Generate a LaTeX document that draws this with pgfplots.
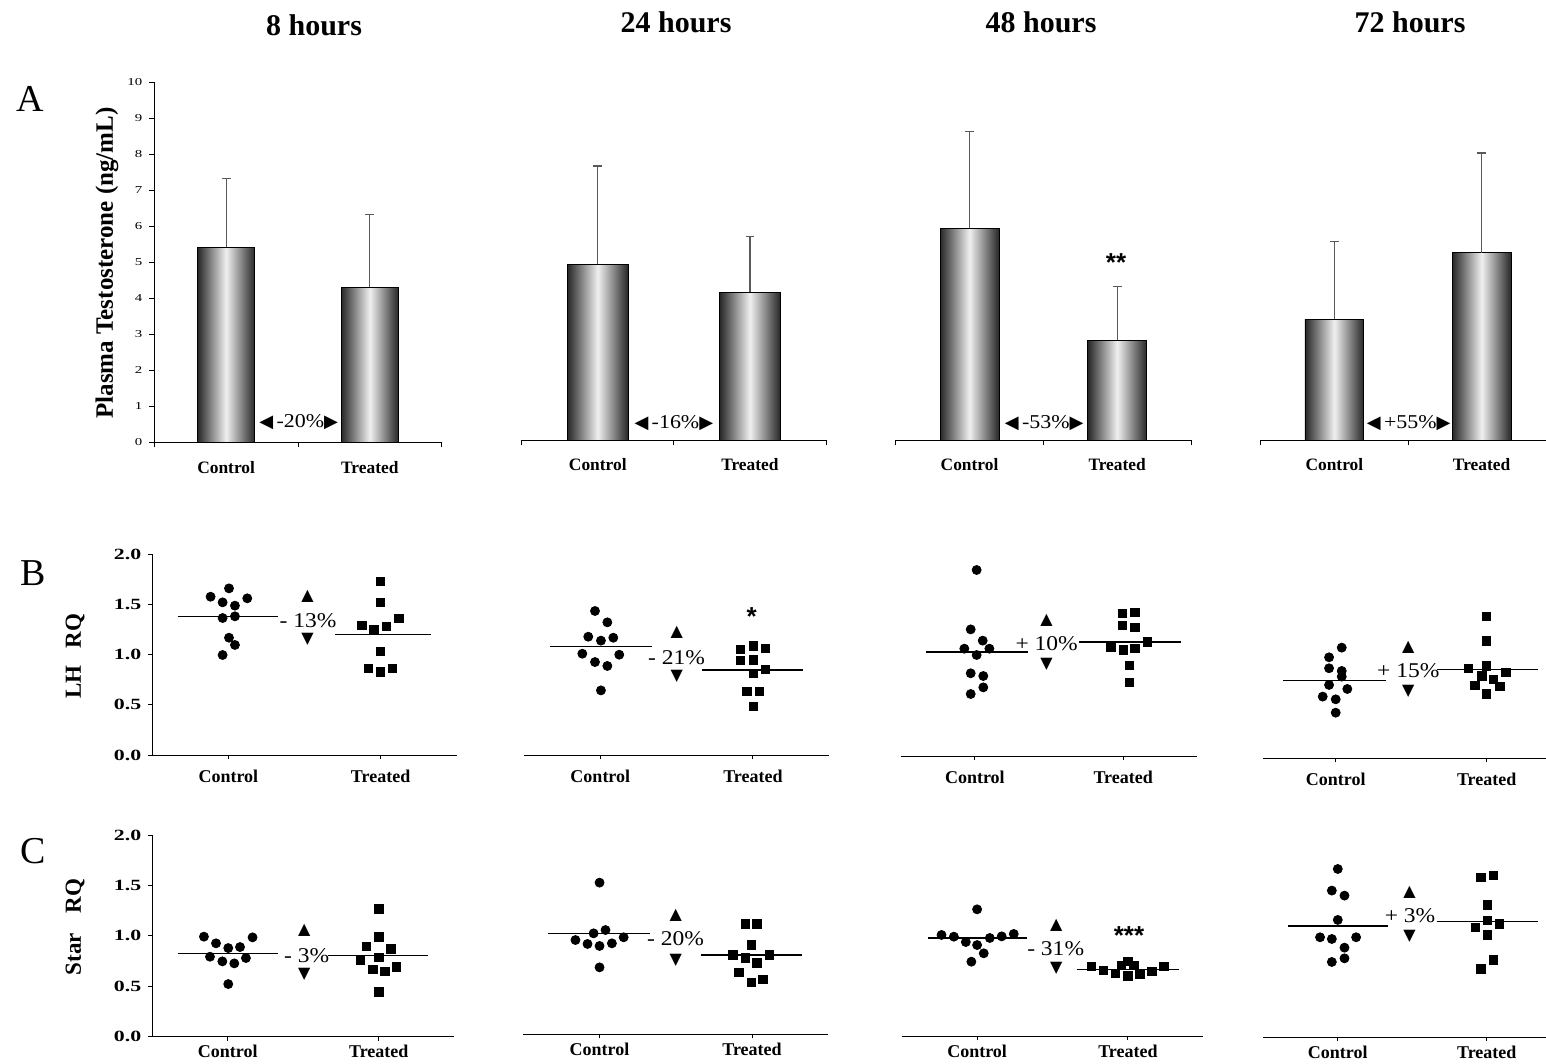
\documentclass[border=0pt]{standalone}
\usepackage{pgfplots}
\pgfplotsset{compat=1.18}
\usepackage{fontspec}
\setmainfont{Liberation Serif}
\newfontfamily\wide[FakeStretch=1.12]{Liberation Serif}
\newfontfamily\wider[FakeStretch=1.4]{Liberation Serif}
\newfontfamily\sym{DejaVu Sans}
\newfontfamily\astf{Liberation Sans}
\newcommand\up{{\sym\fontsize{8}{9}\selectfont ▲}}
\newcommand\dn{{\sym\fontsize{8}{9}\selectfont ▼}}
\newcommand\lt{{\sym\fontsize{9}{9}\selectfont ◀}}
\newcommand\rt{{\sym\fontsize{9}{9}\selectfont ▶}}

\pgfplotsset{
  base/.style={scale only axis, clip=false, xmin=0, xmax=2,
    axis x line*=bottom,
    axis line style={-, black, line width=0.5pt},
    tick style={black, line width=0.5pt},
    tick align=outside, xtick pos=bottom, ytick pos=left,
    /pgf/number format/assume math mode=true},
  yfirst/.style={axis y line*=left},
  ynone/.style={axis y line=none},
  pA/.style={base, ymin=0, ymax=10, height=180pt,
    xtick={0,1,2}, xticklabels={}, major tick length=2.5pt,
    ytick={0,1,...,10},
    yticklabel style={font=\wider\fontsize{5.3}{6}\selectfont}},
  pB/.style={base, ymin=0, ymax=2, height=100.5pt,
    xtick={0.5,1.5}, xticklabels={}, major tick length=2pt,
    ytick={0,0.5,1,1.5,2},
    yticklabel style={font=\wider\bfseries\fontsize{7.8}{8}\selectfont,
      /pgf/number format/fixed, /pgf/number format/fixed zerofill,
      /pgf/number format/precision=1}},
  bar/.style={ybar, bar width=0.4, bar shift=0pt, draw=black, line width=0.4pt,
    left color=black!85, right color=black!85, middle color=white!94!black},
  err/.style={black!65, line width=0.6pt, error bars/.cd, y dir=plus, y explicit,
    error bar style={black!65, line width=0.6pt},
    error mark options={rotate=90, black!65, mark size=2.2pt, line width=0.6pt}},
  dots/.style={only marks, mark=*, mark size=2.25pt, black},
  sq/.style={only marks, mark=square*, mark size=2.1pt, black},
  mean/.style={black, line width=0.6pt},
}
\tikzset{
  lblA/.style={font=\bfseries\fontsize{8.7}{10}\selectfont, yshift=-12.5pt},
  lblB/.style={font=\bfseries\fontsize{9}{10}\selectfont, yshift=-10.5pt},
  lblC/.style={font=\bfseries\fontsize{9}{10}\selectfont, yshift=-7.5pt},
  pctA/.style={font=\wide\fontsize{9.8}{10}\selectfont, inner sep=0pt},
  pct/.style={font=\wide\fontsize{10.5}{12}\selectfont, inner sep=0pt},
  tri/.style={inner sep=0pt},
  star/.style={font=\astf\bfseries\fontsize{13}{13}\selectfont, inner sep=0pt, yshift=-2.8pt},
}

\begin{document}
\begin{tikzpicture}
\path[use as bounding box] (0,0) rectangle (773pt,-532pt);

% titles and panel letters
\node[font=\bfseries\fontsize{15}{18}\selectfont] at (157pt,-12.5pt) {8 hours};
\node[font=\bfseries\fontsize{15}{18}\selectfont] at (338pt,-11pt) {24 hours};
\node[font=\bfseries\fontsize{15}{18}\selectfont] at (520.5pt,-11pt) {48 hours};
\node[font=\bfseries\fontsize{15}{18}\selectfont] at (705pt,-11pt) {72 hours};
\node[font=\fontsize{19}{22}\selectfont] at (15pt,-49.5pt) {A};
\node[font=\fontsize{19}{22}\selectfont] at (16.5pt,-286.5pt) {B};
\node[font=\fontsize{19}{22}\selectfont] at (16.5pt,-425.5pt) {C};
\node[rotate=90, font=\bfseries\fontsize{12.5}{14}\selectfont] at (53.5pt,-131.5pt) {Plasma Testosterone (ng/mL)};
\node[rotate=90, font=\bfseries\fontsize{11.5}{12}\selectfont] at (37.5pt,-328pt) {LH\hspace{0.75em}RQ};
\node[rotate=90, font=\bfseries\fontsize{11.5}{12}\selectfont] at (37.5pt,-463.5pt) {Star\hspace{0.85em}RQ};

% ---------------- Panel A ----------------
\begin{axis}[pA, yfirst, at={(77.15pt,-221.15pt)}, anchor=south west, width=143.7pt]
\addplot[bar] coordinates {(0.5,5.42)};
\addplot[bar] coordinates {(1.5,4.31)};
\addplot[err] coordinates {(0.5,5.42) +- (0,1.91)};
\addplot[err] coordinates {(1.5,4.31) +- (0,2.02)};
\node[lblA] at (axis cs:0.5,0) {Control};
\node[lblA] at (axis cs:1.5,0) {Treated};
\node[pctA] at (axis cs:1.005,0.55) {\lt\,-20\%\rt};
\end{axis}

\begin{axis}[pA, ynone, at={(260.85pt,-220pt)}, anchor=south west, width=152.15pt]
\addplot[bar] coordinates {(0.5,4.88)};
\addplot[bar] coordinates {(1.5,4.10)};
\addplot[err] coordinates {(0.5,4.88) +- (0,2.73)};
\addplot[err] coordinates {(1.5,4.10) +- (0,1.55)};
\node[lblA] at (axis cs:0.5,0) {Control};
\node[lblA] at (axis cs:1.5,0) {Treated};
\node[pctA] at (axis cs:1.0,0.46) {\lt\,-16\%\rt};
\end{axis}

\begin{axis}[pA, ynone, at={(447.85pt,-220pt)}, anchor=south west, width=147.65pt]
\addplot[bar] coordinates {(0.5,5.88)};
\addplot[bar] coordinates {(1.5,2.77)};
\addplot[err] coordinates {(0.5,5.88) +- (0,2.68)};
\addplot[err] coordinates {(1.5,2.77) +- (0,1.49)};
\node[lblA] at (axis cs:0.5,0) {Control};
\node[lblA] at (axis cs:1.5,0) {Treated};
\node[pctA] at (axis cs:1.006,0.46) {\lt\,-53\%\rt};
\node[star] at (axis cs:1.492,5.09) {**};
\end{axis}

\begin{axis}[pA, ynone, at={(630.35pt,-220pt)}, anchor=south west, width=142.65pt, xmax=1.937]
\addplot[bar] coordinates {(0.5,3.35)};
\addplot[bar] coordinates {(1.5,5.20)};
\addplot[err] coordinates {(0.5,3.35) +- (0,2.17)};
\addplot[err] coordinates {(1.5,5.20) +- (0,2.77)};
\node[lblA] at (axis cs:0.5,0) {Control};
\node[lblA] at (axis cs:1.5,0) {Treated};
\node[pctA] at (axis cs:1.005,0.46) {\lt\,+55\%\rt};
\end{axis}

% ---------------- Panel B (LH RQ) ----------------
\begin{axis}[pB, yfirst, at={(76.15pt,-377.5pt)}, anchor=south west, width=152.2pt]
\addplot[mean] coordinates {(0.167,1.38) (0.828,1.38)};
\addplot[mean] coordinates {(1.20,1.20) (1.83,1.20)};
\addplot[dots] coordinates {(0.383,1.575) (0.504,1.658) (0.624,1.559) (0.462,1.519) (0.543,1.486) (0.462,1.363) (0.543,1.380) (0.504,1.167) (0.543,1.095) (0.462,0.995)};
\addplot[sq] coordinates {(1.500,1.725) (1.500,1.519) (1.376,1.290) (1.457,1.244) (1.540,1.280) (1.621,1.357) (1.500,1.028) (1.419,0.859) (1.500,0.826) (1.579,0.859)};
\node[lblB] at (axis cs:0.5,0) {Control};
\node[lblB] at (axis cs:1.5,0) {Treated};
\node[pct] at (axis cs:1.023,1.337) {- 13\%};
\node[tri] at (axis cs:1.02,1.58) {\up};
\node[tri] at (axis cs:1.02,1.15) {\dn};
\end{axis}

\begin{axis}[pB, ynone, at={(262pt,-377.5pt)}, anchor=south west, width=152.65pt]
\addplot[mean] coordinates {(0.17,1.078) (0.836,1.078)};
\addplot[mean] coordinates {(1.168,0.846) (1.83,0.846)};
\addplot[dots] coordinates {(0.465,1.433) (0.546,1.320) (0.421,1.177) (0.504,1.138) (0.585,1.167) (0.382,1.008) (0.624,0.998) (0.465,0.925) (0.546,0.886) (0.504,0.643)};
\addplot[sq] coordinates {(1.419,1.051) (1.502,1.085) (1.583,1.058) (1.419,0.939) (1.502,0.945) (1.583,0.852) (1.502,0.813) (1.461,0.630) (1.541,0.630) (1.502,0.481)};
\node[lblB] at (axis cs:0.5,0) {Control};
\node[lblB] at (axis cs:1.5,0) {Treated};
\node[pct] at (axis cs:1.0,0.972) {- 21\%};
\node[tri] at (axis cs:1.0,1.217) {\up};
\node[tri] at (axis cs:1.0,0.779) {\dn};
\node[star] at (axis cs:1.491,1.436) {*};
\end{axis}

\begin{axis}[pB, ynone, at={(450.35pt,-378pt)}, anchor=south west, width=148.3pt]
\addplot[mean, line width=1pt] coordinates {(0.169,1.031) (0.856,1.031)};
\addplot[mean, line width=1pt] coordinates {(1.202,1.138) (1.89,1.138)};
\addplot[dots] coordinates {(0.512,1.851) (0.472,1.260) (0.553,1.148) (0.429,1.068) (0.598,1.068) (0.512,1.005) (0.472,0.823) (0.557,0.796) (0.557,0.683) (0.472,0.617)};
\addplot[sq] coordinates {(1.494,1.420) (1.580,1.430) (1.494,1.300) (1.580,1.280) (1.663,1.134) (1.416,1.078) (1.501,1.055) (1.580,1.068) (1.542,0.902) (1.542,0.730)};
\node[lblB] at (axis cs:0.5,0) {Control};
\node[lblB] at (axis cs:1.5,0) {Treated};
\node[pct] at (axis cs:0.984,1.121) {+ 10\%};
\node[tri] at (axis cs:0.984,1.353) {\up};
\node[tri] at (axis cs:0.984,0.915) {\dn};
\end{axis}

\begin{axis}[pB, ynone, at={(631.65pt,-379.15pt)}, anchor=south west, width=141.35pt, xmin=0.0205, xmax=1.893]
\addplot[mean] coordinates {(0.153,0.773) (0.833,0.773)};
\addplot[mean] coordinates {(1.173,0.886) (1.842,0.886)};
\addplot[dots] coordinates {(0.540,1.101) (0.456,1.005) (0.456,0.896) (0.540,0.869) (0.540,0.813) (0.456,0.730) (0.577,0.690) (0.414,0.614) (0.500,0.587) (0.500,0.454)};
\addplot[sq] coordinates {(1.5,1.410) (1.5,1.167) (1.379,0.896) (1.5,0.919) (1.626,0.856) (1.467,0.819) (1.544,0.786) (1.422,0.723) (1.588,0.713) (1.5,0.640)};
\node[lblB] at (axis cs:0.5,0) {Control};
\node[lblB] at (axis cs:1.5,0) {Treated};
\node[pct] at (axis cs:0.981,0.872) {+ 15\%};
\node[tri] at (axis cs:0.981,1.104) {\up};
\node[tri] at (axis cs:0.981,0.663) {\dn};
\end{axis}

% ---------------- Panel C (Star RQ) ----------------
\begin{axis}[pB, yfirst, at={(76.15pt,-518.35pt)}, anchor=south west, width=151pt, height=100.85pt]
\addplot[mean] coordinates {(0.168,0.826) (0.834,0.826)};
\addplot[mean] coordinates {(1.166,0.807) (1.828,0.807)};
\addplot[dots] coordinates {(0.342,0.992) (0.664,0.985) (0.422,0.926) (0.503,0.879) (0.581,0.889) (0.382,0.793) (0.620,0.780) (0.464,0.747) (0.543,0.727) (0.503,0.522)};
\addplot[sq] coordinates {(1.501,1.266) (1.501,0.988) (1.419,0.893) (1.581,0.869) (1.501,0.787) (1.380,0.760) (1.461,0.668) (1.541,0.648) (1.618,0.691) (1.501,0.446)};
\node[lblC] at (axis cs:0.5,0) {Control};
\node[lblC] at (axis cs:1.5,0) {Treated};
\node[pct] at (axis cs:1.022,0.80) {- 3\%};
\node[tri] at (axis cs:1.007,1.05) {\up};
\node[tri] at (axis cs:1.007,0.618) {\dn};
\end{axis}

\begin{axis}[pB, ynone, at={(261.65pt,-517pt)}, anchor=south west, width=152.5pt, height=100.85pt]
\addplot[mean] coordinates {(0.165,0.998) (0.833,0.998)};
\addplot[mean] coordinates {(1.163,0.783) (1.83,0.783)};
\addplot[dots] coordinates {(0.5,1.501) (0.539,1.031) (0.461,0.998) (0.342,0.932) (0.658,0.959) (0.421,0.893) (0.581,0.899) (0.5,0.873) (0.5,0.661)};
\addplot[sq] coordinates {(1.456,1.091) (1.533,1.091) (1.496,0.883) (1.375,0.783) (1.456,0.754) (1.612,0.783) (1.533,0.707) (1.415,0.612) (1.572,0.542) (1.496,0.512)};
\node[lblC] at (axis cs:0.5,0) {Control};
\node[lblC] at (axis cs:1.5,0) {Treated};
\node[pct] at (axis cs:0.999,0.949) {- 20\%};
\node[tri] at (axis cs:0.999,1.18) {\up};
\node[tri] at (axis cs:0.999,0.734) {\dn};
\end{axis}

\begin{axis}[pB, ynone, at={(450.85pt,-518pt)}, anchor=south west, width=150.8pt, height=100.85pt]
\addplot[mean] coordinates {(0.171,0.972) (0.833,0.972)};
\addplot[mean] coordinates {(1.162,0.661) (1.836,0.661)};
\addplot[dots] coordinates {(0.5,1.256) (0.264,1.002) (0.346,0.985) (0.425,0.932) (0.5,0.902) (0.584,0.972) (0.663,0.988) (0.743,1.012) (0.544,0.820) (0.462,0.737)};
\addplot[sq] coordinates {(1.259,0.688) (1.339,0.648) (1.418,0.621) (1.458,0.698) (1.5,0.737) (1.540,0.698) (1.5,0.595) (1.579,0.615) (1.659,0.638) (1.738,0.688)};
\node[lblC] at (axis cs:0.5,0) {Control};
\node[lblC] at (axis cs:1.5,0) {Treated};
\node[pct] at (axis cs:1.021,0.869) {- 31\%};
\node[tri] at (axis cs:1.025,1.10) {\up};
\node[tri] at (axis cs:1.025,0.671) {\dn};
\node[star] at (axis cs:1.507,1.051) {***};
\end{axis}

\begin{axis}[pB, ynone, at={(631.65pt,-518.65pt)}, anchor=south west, width=141.35pt, height=100.85pt, xmin=0, xmax=1.898]
\addplot[mean] coordinates {(0.169,1.104) (0.84,1.104)};
\addplot[mean] coordinates {(1.164,1.150) (1.842,1.150)};
\addplot[dots] coordinates {(0.5,1.669) (0.460,1.455) (0.545,1.405) (0.5,1.164) (0.381,0.992) (0.460,0.975) (0.623,0.992) (0.545,0.889) (0.545,0.783) (0.460,0.747)};
\addplot[sq] coordinates {(1.462,1.587) (1.545,1.603) (1.504,1.312) (1.504,1.157) (1.583,1.124) (1.422,1.091) (1.504,1.015) (1.545,0.767) (1.462,0.678)};
\node[lblC] at (axis cs:0.5,0) {Control};
\node[lblC] at (axis cs:1.5,0) {Treated};
\node[pct] at (axis cs:0.985,1.203) {+ 3\%};
\node[tri] at (axis cs:0.981,1.438) {\up};
\node[tri] at (axis cs:0.981,0.998) {\dn};
\end{axis}
\end{tikzpicture}
\end{document}
